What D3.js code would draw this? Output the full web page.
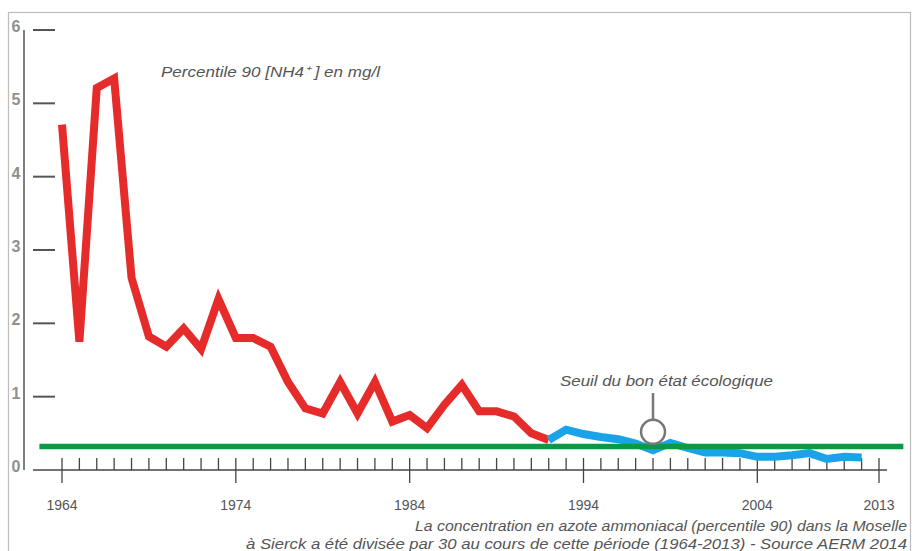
<!DOCTYPE html>
<html lang="fr">
	<head>
		<meta charset="utf-8">
		<title>Azote ammoniacal - Moselle</title>
		<script type="text/javascript" src="https://cdn.jsdelivr.net/npm/d3@7"></script>
		<style>
			body { margin: 0; background: #fff; }
			text { font-family: "Liberation Sans", Arial, sans-serif; }
		</style>
	</head>
	<body>
		<script type="text/javascript">

			var w = 912;
			var h = 551;

			// valeurs
			var redYears = d3.range(1964, 1993);
			var redValues = [4.71, 1.75, 5.21, 5.34, 2.62, 1.82, 1.68, 1.93, 1.65, 2.33,
							 1.80, 1.80, 1.68, 1.20, 0.84, 0.77, 1.20, 0.77, 1.20, 0.66,
							 0.75, 0.57, 0.89, 1.16, 0.80, 0.80, 0.73, 0.50, 0.41];
			var blueYears = d3.range(1992, 2011);
			var blueValues = [0.41, 0.55, 0.49, 0.45, 0.42, 0.36, 0.27, 0.37, 0.30, 0.24,
							  0.24, 0.23, 0.18, 0.18, 0.20, 0.23, 0.15, 0.18, 0.17];
			var threshold = 0.32;
			var thresholdSpan = [1962.7, 2012.4];
			var markerYear = 1998;
			var markerValue = 0.52;

			var yTicks = [0, 1, 2, 3, 4, 5, 6];
			var minorYears = d3.range(1964, 2012);
			var majorYears = [1964, 1974, 1984, 1994, 2004, 2011];
			var majorLabels = ["1964", "1974", "1984", "1994", "2004", "2013"];

			var xScale = d3.scaleLinear()
						   .domain([1964, 2011])
						   .range([62, 879]);

			var yScale = d3.scaleLinear()
						   .domain([0, 6])
						   .range([470, 30]);

			var svg = d3.select("body")
						.append("svg")
						.attr("width", w)
						.attr("height", h);

			// cadre
			svg.append("rect")
			   .attr("x", 8.5)
			   .attr("y", 12.5)
			   .attr("width", 902)
			   .attr("height", 560)
			   .attr("fill", "none")
			   .attr("stroke", "#bdbdbd")
			   .attr("stroke-width", 1.2);

			// axe vertical
			svg.append("line")
			   .attr("x1", 24).attr("x2", 24)
			   .attr("y1", yScale(6)).attr("y2", yScale(0))
			   .attr("stroke", "#555")
			   .attr("stroke-width", 1.5);

			svg.selectAll(".ytick")
				.data(yTicks.filter(function(d) { return d > 0; }))
				.enter()
				.append("line")
				.attr("class", "ytick")
				.attr("x1", 33).attr("x2", 55)
				.attr("y1", function(d) { return yScale(d); })
				.attr("y2", function(d) { return yScale(d); })
				.attr("stroke", "#555")
				.attr("stroke-width", 2);

			svg.selectAll(".ylabel")
				.data(yTicks)
				.enter()
				.append("text")
				.attr("class", "ylabel")
				.text(function(d) { return d; })
				.attr("x", 16)
				.attr("y", function(d) { return yScale(d) + 2; })
				.attr("text-anchor", "middle")
				.attr("font-size", "16px")
				.attr("font-weight", "bold")
				.attr("fill", "#8f8f8f");

			// axe horizontal
			svg.append("line")
			   .attr("x1", 33).attr("x2", 887)
			   .attr("y1", yScale(0)).attr("y2", yScale(0))
			   .attr("stroke", "#444")
			   .attr("stroke-width", 1.5);

			svg.selectAll(".xminor")
				.data(minorYears)
				.enter()
				.append("line")
				.attr("class", "xminor")
				.attr("x1", function(d) { return xScale(d); })
				.attr("x2", function(d) { return xScale(d); })
				.attr("y1", yScale(0) - 12)
				.attr("y2", function(d) {
					return majorYears.indexOf(d) >= 0 ? yScale(0) + 13 : yScale(0);
				})
				.attr("stroke", "#444")
				.attr("stroke-width", 1.3);

			svg.selectAll(".xlabel")
				.data(majorYears)
				.enter()
				.append("text")
				.attr("class", "xlabel")
				.text(function(d, i) { return majorLabels[i]; })
				.attr("x", function(d) { return xScale(d); })
				.attr("y", 510)
				.attr("text-anchor", "middle")
				.attr("font-size", "14px")
				.attr("fill", "#555");

			var line = d3.line()
						 .x(function(d) { return xScale(d[0]); })
						 .y(function(d) { return yScale(d[1]); });

			svg.append("path")
			   .datum(d3.zip(redYears, redValues))
			   .attr("d", line)
			   .attr("fill", "none")
			   .attr("stroke", "#e62b2b")
			   .attr("stroke-width", 8);

			svg.append("path")
			   .datum(d3.zip(blueYears, blueValues))
			   .attr("d", line)
			   .attr("fill", "none")
			   .attr("stroke", "#1aa3e8")
			   .attr("stroke-width", 8);

			// seuil
			svg.append("line")
			   .attr("x1", xScale(thresholdSpan[0]))
			   .attr("x2", xScale(thresholdSpan[1]))
			   .attr("y1", yScale(threshold))
			   .attr("y2", yScale(threshold))
			   .attr("stroke", "#0a9a45")
			   .attr("stroke-width", 5.5);

			svg.append("line")
			   .attr("x1", xScale(markerYear)).attr("x2", xScale(markerYear))
			   .attr("y1", 393).attr("y2", yScale(markerValue) - 12)
			   .attr("stroke", "#777")
			   .attr("stroke-width", 2.5);

			svg.append("circle")
			   .attr("cx", xScale(markerYear))
			   .attr("cy", yScale(markerValue))
			   .attr("r", 12)
			   .attr("fill", "#fff")
			   .attr("fill-opacity", 0.6)
			   .attr("stroke", "#777")
			   .attr("stroke-width", 2.5);

			svg.append("text")
			   .text("Seuil du bon état écologique")
			   .attr("x", 560)
			   .attr("y", 386)
			   .attr("textLength", 213)
			   .attr("lengthAdjust", "spacingAndGlyphs")
			   .attr("font-size", "14.5px")
			   .attr("font-style", "italic")
			   .attr("fill", "#555");

			svg.append("text")
			   .text("Percentile 90 [NH4⁺ ] en mg/l")
			   .attr("x", 161)
			   .attr("y", 77)
			   .attr("textLength", 219)
			   .attr("lengthAdjust", "spacingAndGlyphs")
			   .attr("font-size", "14.5px")
			   .attr("font-style", "italic")
			   .attr("fill", "#555");

			svg.append("text")
			   .text("La concentration en azote ammoniacal (percentile 90) dans la Moselle")
			   .attr("x", 415)
			   .attr("y", 531)
			   .attr("textLength", 492)
			   .attr("lengthAdjust", "spacingAndGlyphs")
			   .attr("font-size", "15px")
			   .attr("font-style", "italic")
			   .attr("fill", "#555");

			svg.append("text")
			   .text("à Sierck a été divisée par 30 au cours de cette période (1964-2013) - Source AERM 2014")
			   .attr("x", 246)
			   .attr("y", 549)
			   .attr("textLength", 661)
			   .attr("lengthAdjust", "spacingAndGlyphs")
			   .attr("font-size", "15px")
			   .attr("font-style", "italic")
			   .attr("fill", "#555");

		</script>
	</body>
</html>
